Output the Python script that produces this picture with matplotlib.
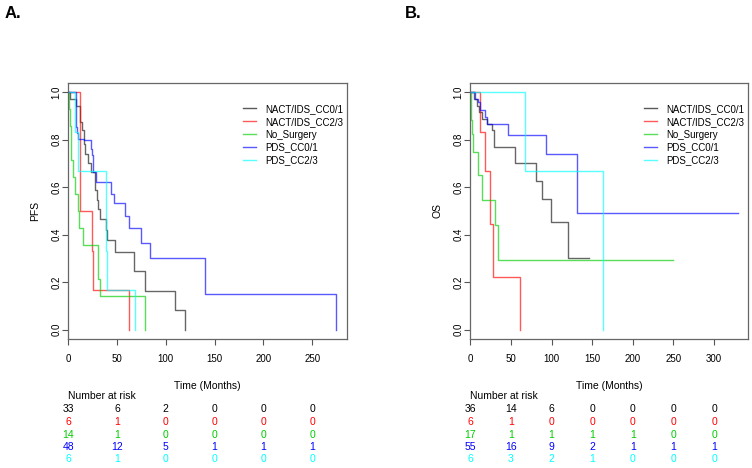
import matplotlib
matplotlib.use("Agg")
import matplotlib.pyplot as plt
import matplotlib.transforms as mtransforms

plt.rcParams['font.family'] = ['Liberation Sans Narrow', 'Liberation Sans', 'DejaVu Sans']

groups = ['NACT/IDS_CC0/1', 'NACT/IDS_CC2/3', 'No_Surgery', 'PDS_CC0/1', 'PDS_CC2/3']
colors = ['black', 'red', '#00CD00', 'blue', 'cyan']

# Panel A: PFS step curves (months, survival)
pfs_t = [
    [0, 2, 7.5, 12.5, 14, 16, 17.5, 20, 23.5, 27.5, 29, 30, 32, 38.5, 40, 48, 67, 79, 109, 120],
    [0, 12, 24.5, 25.5, 62],
    [0, 0.5, 2, 3.1, 4.8, 7.2, 9.5, 11, 14.7, 30.5, 33, 78.5],
    [0, 7.5, 9, 10, 12, 16, 23, 24.5, 25.5, 28, 44, 47, 58, 62, 75, 84, 140, 274.5],
    [0, 7, 10, 38.5, 39.5, 68],
]
pfs_s = [
    [1.0, 0.97, 0.94, 0.875, 0.84, 0.78, 0.74, 0.70, 0.665, 0.59, 0.545, 0.51, 0.465, 0.42, 0.38, 0.327, 0.246, 0.164, 0.082, 0.0],
    [1.0, 0.5, 0.333, 0.167, 0.0],
    [1.0, 0.929, 0.857, 0.714, 0.643, 0.571, 0.5, 0.429, 0.357, 0.214, 0.143, 0.0],
    [1.0, 0.854, 0.83, 0.805, 0.805, 0.80, 0.76, 0.735, 0.664, 0.622, 0.573, 0.535, 0.48, 0.428, 0.367, 0.303, 0.152, 0.0],
    [1.0, 0.833, 0.667, 0.333, 0.167, 0.0],
]

# Panel B: OS step curves
os_t = [
    [0, 5, 8, 11, 14, 20, 27, 29, 55, 81, 88.5, 99, 120, 146],
    [0, 12.3, 18.4, 24.6, 27.5, 61.5],
    [0, 0.3, 1, 2.5, 3, 9, 15, 31, 34, 249],
    [0, 6, 9, 12, 18, 21, 47, 93.5, 131, 329],
    [0, 67.6, 163],
]
os_s = [
    [1.0, 0.972, 0.944, 0.917, 0.889, 0.868, 0.84, 0.77, 0.704, 0.625, 0.549, 0.455, 0.303, 0.303],
    [1.0, 0.833, 0.667, 0.444, 0.222, 0.0],
    [1.0, 0.941, 0.882, 0.824, 0.75, 0.653, 0.545, 0.44, 0.292, 0.292],
    [1.0, 0.973, 0.96, 0.924, 0.896, 0.868, 0.819, 0.742, 0.493, 0.493],
    [1.0, 0.667, 0.0],
]

# number at risk tables
risk_times_a = [0, 50, 100, 150, 200, 250]
risk_a = [
    [33, 6, 2, 0, 0, 0],
    [6, 1, 0, 0, 0, 0],
    [14, 1, 0, 0, 0, 0],
    [48, 12, 5, 1, 1, 1],
    [6, 1, 0, 0, 0, 0],
]
risk_times_b = [0, 50, 100, 150, 200, 250, 300]
risk_b = [
    [36, 14, 6, 0, 0, 0, 0],
    [6, 1, 0, 0, 0, 0, 0],
    [17, 1, 1, 1, 1, 0, 0],
    [55, 16, 9, 2, 1, 1, 1],
    [6, 3, 2, 1, 0, 0, 0],
]

W, H = 752, 468
fig = plt.figure(figsize=(W / 100, H / 100), dpi=100)


def px(x0, y0, x1, y1):
    return [x0 / W, 1 - y1 / H, (x1 - x0) / W, (y1 - y0) / H]


def panel(rect, ts, ss, xmax, ylabel, rtimes, risk, letter, letter_x):
    ax = fig.add_axes(rect)
    for t, s, c in zip(ts, ss, colors):
        a = 0.65 if c != 'black' else 0.6
        ax.step(t, s, where='post', color=c, lw=1.0, alpha=a)
    ax.set_xlim(0, xmax * 1.04)
    ax.set_ylim(-0.04, 1.04)
    ax.set_yticks([0, 0.2, 0.4, 0.6, 0.8, 1.0])
    ax.set_yticklabels(['0.0', '0.2', '0.4', '0.6', '0.8', '1.0'], rotation=90, va='center')
    ax.set_xticks(rtimes)
    ax.tick_params(direction='out', length=4, width=0.8, colors='#555555', labelsize=7,
                   labelcolor='black')
    ax.tick_params(axis='x', pad=6.5)
    ax.tick_params(axis='y', pad=0.8)
    for sp in ax.spines.values():
        sp.set_color('#666666')
        sp.set_linewidth(0.9)
    ax.set_ylabel(ylabel, fontsize=7.5, labelpad=8)
    ax.set_xlabel('Time (Months)', fontsize=7.5, labelpad=12)
    # legend without frame
    handles = [plt.Line2D([], [], color=c, lw=1.0, alpha=0.65) for c in colors]
    ax.legend(handles, groups, loc='upper right', bbox_to_anchor=(1.018, 0.952), frameon=False,
              fontsize=7, handlelength=1.35, handletextpad=0.95, labelspacing=0.3)
    # risk table
    tr = mtransforms.blended_transform_factory(ax.transData, fig.transFigure)
    ax.text(0, 1 - 396 / H, 'Number at risk', transform=tr, fontsize=7.5,
            ha='left', va='center')
    rows_y = [409, 422, 434.5, 447, 459.5]
    for row, c, yy in zip(risk, colors, rows_y):
        for t, n in zip(rtimes, row):
            ax.text(t, 1 - yy / H, str(n), transform=tr, fontsize=7.5, color=c,
                    ha='center', va='center')
    fig.text(letter_x / W, 1 - 14 / H, letter, fontsize=12, fontweight='bold',
             ha='left', va='center')
    return ax


panel(px(68.3, 82.7, 347.3, 339.3), pfs_t, pfs_s, 275, 'PFS', risk_times_a, risk_a, 'A.', 5)
panel(px(470.3, 82.7, 748.3, 339.3), os_t, os_s, 329, 'OS', risk_times_b, risk_b, 'B.', 405)

fig.savefig('out.png', dpi=100)
